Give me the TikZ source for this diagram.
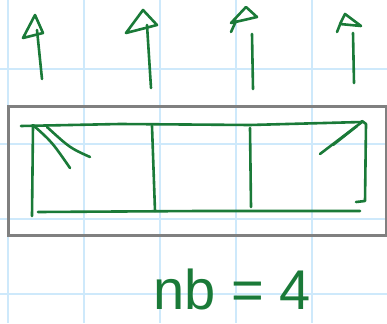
\documentclass[tikz,border=0pt]{standalone}
\usepackage{fontspec}
\newfontfamily\handfont{Liberation Sans}
\usepackage{tikz}
\definecolor{ink}{RGB}{26,122,56}
\definecolor{gridblue}{RGB}{206,233,251}
\definecolor{framegray}{RGB}{128,128,128}

\begin{document}
\begin{tikzpicture}[x=1pt, y=-1pt, gridline/.style={draw=gridblue, line width=1.4pt}, frame/.style={draw=framegray, line width=3pt}, pen/.style={draw=ink, line width=2.6pt, line cap=round, line join=round}, pentext/.style={text=ink, font=\handfont\fontsize{56}{56}\selectfont, inner sep=0pt}]
	\useasboundingbox (0,0) rectangle (387,323);
	\fill[white] (0,0) rectangle (387,323);
	% paper grid
	\draw[gridline] (8,0) -- (8,323) (84,0) -- (84,323) (160,0) -- (160,323) (236,0) -- (236,323) (312,0) -- (312,323);
	\draw[gridline] (0,69) -- (387,69) (0,144) -- (387,144) (0,219) -- (387,219) (0,294) -- (387,294);
	% outer gray frame
	\draw[frame] (8,107) rectangle (386,235);
	% the four arrows
	\draw[pen] (35,15) -- (43,33) -- (23,38) -- cycle;
	\draw[pen] (37,30) -- (42,79);
	\draw[pen] (143,10) -- (157,25) -- (126,33) -- cycle;
	\draw[pen] (147,25) -- (151,88);
	\draw[pen] (246,7) -- (257,17) -- (231,23) -- cycle (236,21) -- (231,32);
	\draw[pen] (252,34) -- (253,89);
	\draw[pen] (345,14) -- (361,26) -- (340,24) -- cycle (341,22) -- (337,32);
	\draw[pen] (353,33) -- (354,83);
	% the strip of cells
	\draw[pen] (21,126) -- (120,124) -- (250,125) -- (362,122);
	\draw[pen] (33,126) -- (32,216);
	\draw[pen] (38,212) -- (200,211) -- (360,211);
	\draw[pen] (362,121) -- (366,124) -- (365,201) -- (356,202);
	\draw[pen] (152,126) -- (155,211);
	\draw[pen] (250,128) -- (251,207);
	% corner marks
	\draw[pen] (33,125) .. controls (52,142) .. (70,168);
	\draw[pen] (47,127) .. controls (70,148) .. (90,157);
	\draw[pen] (362,122) -- (320,154);
	\draw[pen] (357,126) -- (333,145);
	% label
	\node[pentext, anchor=base] (nb) at (232,309) {nb = 4};
\end{tikzpicture}
\end{document}
